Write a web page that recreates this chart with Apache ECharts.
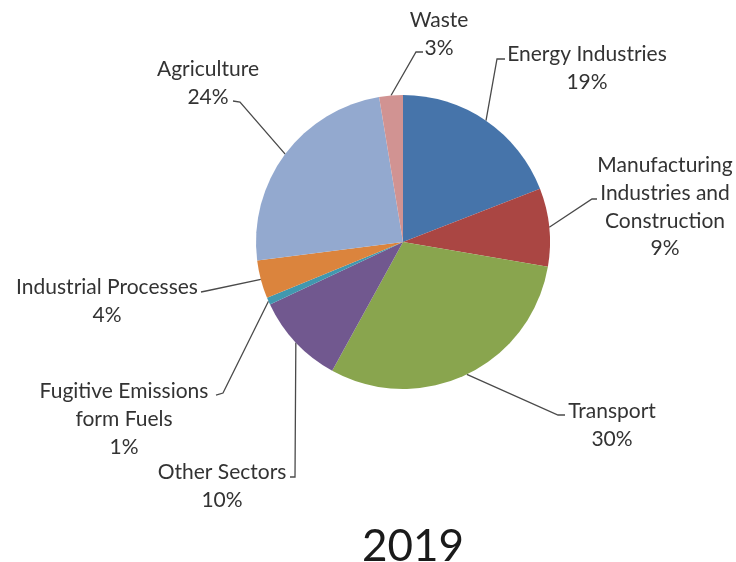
<!DOCTYPE html>
<html>
<head>
<meta charset="utf-8">
<script src="https://cdn.jsdelivr.net/npm/echarts@6/dist/echarts.min.js"></script>
<style>
html,body{margin:0;padding:0;background:#fff;}
#chart{width:736px;height:562px;}
</style>
</head>
<body>
<div id="chart"></div>
<script>
// Data (shares in percent)
var categories = [
  'Energy Industries',
  'Manufacturing\nIndustries and\nConstruction',
  'Transport',
  'Other Sectors',
  'Fugitive Emissions\nform Fuels',
  'Industrial Processes',
  'Agriculture',
  'Waste'
];
var values = [19.1, 8.6, 30.3, 10.0, 0.8, 4.2, 24.4, 2.6];
var colors = ['#4674AA', '#AA4643', '#89A54E', '#71588F', '#4198AF', '#DB843D', '#93A9CF', '#D19392'];
var titleText = '2019';

// Label placement (layout only)
var labelPos = [
  {x: 587, y: 68, elbow: [497, 59], end: [505, 59]},
  {x: 665, y: 207, elbow: [592, 199], end: [597, 199]},
  {x: 612, y: 425, elbow: [558, 415], end: [565, 415]},
  {x: 222, y: 486, elbow: [295, 477], end: [290, 477]},
  {x: 124, y: 419, elbow: [223, 393], end: [216, 395]},
  {x: 107, y: 301, elbow: [206, 291], end: [201, 292]},
  {x: 208, y: 83, elbow: [240, 102], end: [233, 101]},
  {x: 439, y: 34, elbow: [416, 52], end: [423, 52]}
];

var chart = echarts.init(document.getElementById('chart'), null, {renderer: 'canvas'});
var seriesData = categories.map(function (c, i) {
  return {name: c, value: values[i], itemStyle: {color: colors[i]}};
});

chart.setOption({
  animation: false,
  backgroundColor: '#ffffff',
  title: {
    text: titleText,
    left: 408,
    top: 520,
    textAlign: 'center',
    textStyle: {fontFamily: 'Lato', fontSize: 44, fontWeight: 'normal', color: '#1a1a1a'}
  },
  series: [{
    type: 'pie',
    center: [403, 242],
    radius: [0, 147],
    startAngle: 90,
    clockwise: true,
    avoidLabelOverlap: false,
    itemStyle: {borderWidth: 0},
    label: {
      show: true,
      position: 'outside',
      fontFamily: 'Lato',
      fontSize: 21,
      lineHeight: 27.8,
      color: '#333333',
      align: 'center',
      formatter: function (p) { return p.name + '\n' + Math.round(p.percent) + '%'; }
    },
    labelLine: {
      show: true,
      length: 10,
      length2: 10,
      lineStyle: {color: '#4a4a4a', width: 1.3}
    },
    labelLayout: function (params) {
      var lp = labelPos[params.dataIndex];
      var start = params.labelLinePoints ? params.labelLinePoints[0] : lp.elbow;
      return {
        x: lp.x,
        y: lp.y,
        align: 'center',
        verticalAlign: 'middle',
        labelLinePoints: [start, lp.elbow, lp.end]
      };
    },
    data: seriesData
  }]
});
</script>
</body>
</html>
